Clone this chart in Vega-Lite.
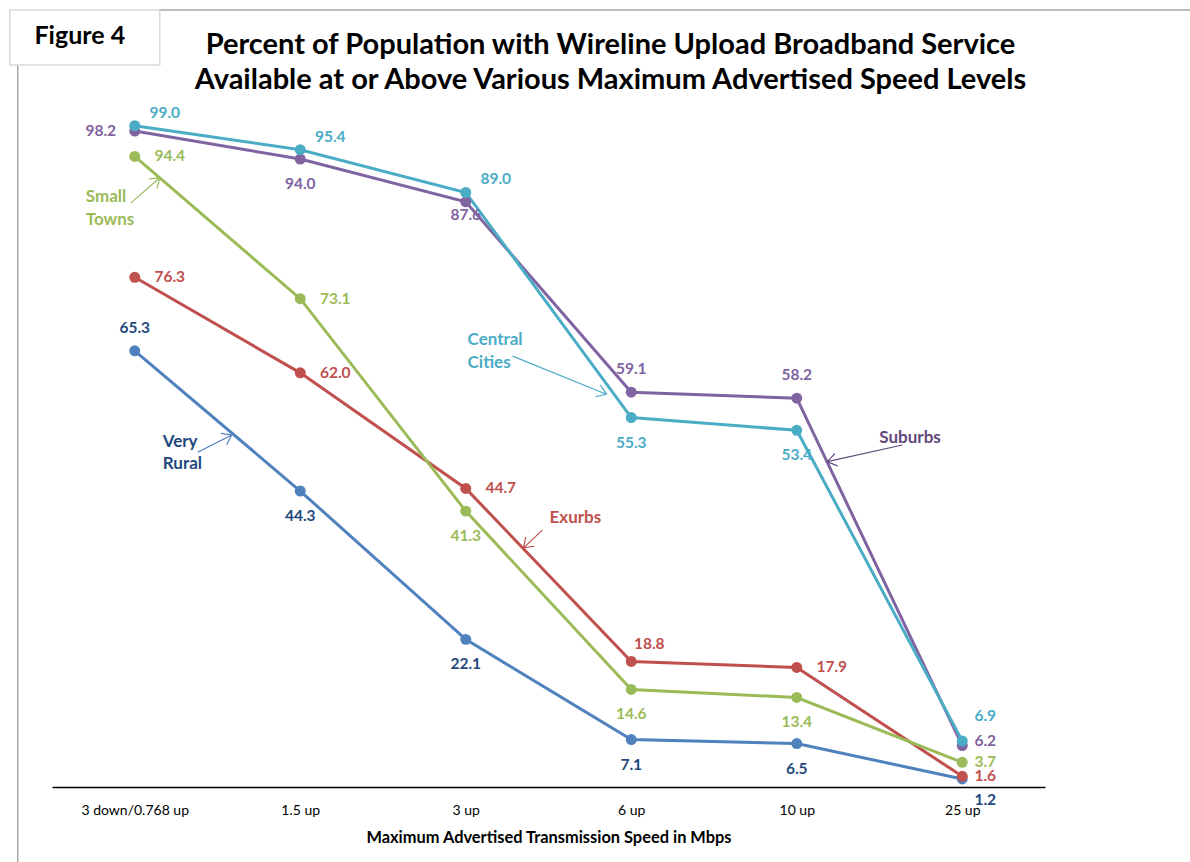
{
  "$schema": "https://vega.github.io/schema/vega-lite/v6.json",
  "width": 993,
  "height": 668,
  "autosize": {"type": "none"},
  "padding": {"left": 52, "top": 119, "right": 145, "bottom": 75},
  "background": "white",
  "config": {"view": {"stroke": null}, "font": "Lato"},
  "title": {
    "text": ["Percent of Population with Wireline Upload Broadband Service", "Available at or Above Various Maximum Advertised Speed Levels"],
    "fontSize": 29,
    "fontWeight": "bold",
    "font": "Lato",
    "lineHeight": 35,
    "color": "black",
    "anchor": "middle",
    "frame": "group",
    "baseline": "bottom",
    "dx": 62,
    "offset": -115
  },
  "datasets": {
    "main": [
      {"series": "Very Rural", "speed": "3 down/0.768 up", "value": 65.3},
      {"series": "Very Rural", "speed": "1.5 up", "value": 44.3},
      {"series": "Very Rural", "speed": "3 up", "value": 22.1},
      {"series": "Very Rural", "speed": "6 up", "value": 7.1},
      {"series": "Very Rural", "speed": "10 up", "value": 6.5},
      {"series": "Very Rural", "speed": "25 up", "value": 1.2},
      {"series": "Exurbs", "speed": "3 down/0.768 up", "value": 76.3},
      {"series": "Exurbs", "speed": "1.5 up", "value": 62.0},
      {"series": "Exurbs", "speed": "3 up", "value": 44.7},
      {"series": "Exurbs", "speed": "6 up", "value": 18.8},
      {"series": "Exurbs", "speed": "10 up", "value": 17.9},
      {"series": "Exurbs", "speed": "25 up", "value": 1.6},
      {"series": "Small Towns", "speed": "3 down/0.768 up", "value": 94.4},
      {"series": "Small Towns", "speed": "1.5 up", "value": 73.1},
      {"series": "Small Towns", "speed": "3 up", "value": 41.3},
      {"series": "Small Towns", "speed": "6 up", "value": 14.6},
      {"series": "Small Towns", "speed": "10 up", "value": 13.4},
      {"series": "Small Towns", "speed": "25 up", "value": 3.7},
      {"series": "Suburbs", "speed": "3 down/0.768 up", "value": 98.2},
      {"series": "Suburbs", "speed": "1.5 up", "value": 94.0},
      {"series": "Suburbs", "speed": "3 up", "value": 87.6},
      {"series": "Suburbs", "speed": "6 up", "value": 59.1},
      {"series": "Suburbs", "speed": "10 up", "value": 58.2},
      {"series": "Suburbs", "speed": "25 up", "value": 6.2},
      {"series": "Central Cities", "speed": "3 down/0.768 up", "value": 99.0},
      {"series": "Central Cities", "speed": "1.5 up", "value": 95.4},
      {"series": "Central Cities", "speed": "3 up", "value": 89.0},
      {"series": "Central Cities", "speed": "6 up", "value": 55.3},
      {"series": "Central Cities", "speed": "10 up", "value": 53.4},
      {"series": "Central Cities", "speed": "25 up", "value": 6.9}
    ],
    "notes": [
      {"series": "Small Towns", "text": "Small", "ax": -0.296, "ay": 88.3},
      {"series": "Small Towns", "text": "Towns", "ax": -0.296, "ay": 84.9},
      {"series": "Central Cities", "text": "Central", "ax": 2.011, "ay": 66.9},
      {"series": "Central Cities", "text": "Cities", "ax": 2.011, "ay": 63.5},
      {"series": "Very Rural", "text": "Very", "ax": 0.169, "ay": 51.6},
      {"series": "Very Rural", "text": "Rural", "ax": 0.169, "ay": 48.4},
      {"series": "Exurbs", "text": "Exurbs", "ax": 2.506, "ay": 40.3},
      {"series": "Suburbs", "text": "Suburbs", "ax": 4.499, "ay": 52.2}
    ],
    "arrows": [
      {"series": "Small Towns", "ax": -0.024, "ay": 87.4, "ax2": 0.151, "ay2": 91.2},
      {"series": "Central Cities", "ax": 2.283, "ay": 64.5, "ax2": 2.85, "ay2": 58.8},
      {"series": "Very Rural", "ax": 0.38, "ay": 50.1, "ax2": 0.586, "ay2": 52.7},
      {"series": "Exurbs", "ax": 2.464, "ay": 38.5, "ax2": 2.349, "ay2": 35.8},
      {"series": "Suburbs", "ax": 4.638, "ay": 51.2, "ax2": 4.185, "ay2": 48.7}
    ]
  },
  "resolve": {"scale": {"x": "independent", "fill": "independent", "stroke": "independent", "color": "independent"}},
  "layer": [
    {
      "data": {"name": "main"},
      "encoding": {
        "x": {
          "field": "speed",
          "type": "ordinal",
          "sort": ["3 down/0.768 up", "1.5 up", "3 up", "6 up", "10 up", "25 up"],
          "scale": {"type": "point", "padding": 0.5},
          "axis": {
            "title": "Maximum Advertised Transmission Speed in Mbps",
            "titleFontSize": 16.4,
            "titleFontWeight": "bold",
            "titleColor": "black",
            "titleFont": "Lato",
            "titlePadding": 12,
            "labelFontSize": 14,
            "labelColor": "black",
            "labelFont": "Lato",
            "labelAngle": 0,
            "labelPadding": 16,
            "ticks": false,
            "domainColor": "black",
            "domainWidth": 1.5,
            "grid": false
          }
        },
        "y": {"field": "value", "type": "quantitative", "scale": {"domain": [0, 100]}, "axis": null}
      },
      "layer": [
        {
          "mark": {"type": "line", "strokeWidth": 3},
          "encoding": {
            "color": {"field": "series", "type": "nominal", "legend": null,
              "scale": {"domain": ["Very Rural", "Exurbs", "Small Towns", "Suburbs", "Central Cities"],
                        "range": ["#4F81BD", "#C0504D", "#9BBB59", "#8064A2", "#4BACC6"]}}
          }
        },
        {
          "mark": {"type": "point", "filled": true, "size": 120, "opacity": 1},
          "encoding": {
            "color": {"field": "series", "type": "nominal", "legend": null,
              "scale": {"domain": ["Very Rural", "Exurbs", "Small Towns", "Suburbs", "Central Cities"],
                        "range": ["#4F81BD", "#C0504D", "#9BBB59", "#8064A2", "#4BACC6"]}}
          }
        },
        {
          "transform": [{"filter": "datum.series === 'Central Cities' && indexof(['3 down/0.768 up','1.5 up','3 up'], datum.speed) >= 0"}],
          "mark": {"type": "text", "fontSize": 15.5, "fontWeight": "bold", "font": "Lato", "align": "center", "baseline": "middle", "dx": 30, "dy": -13},
          "encoding": {
            "text": {"field": "value", "type": "quantitative", "format": ".1f"},
            "fill": {"field": "series", "type": "nominal", "legend": null,
              "scale": {"domain": ["Very Rural", "Exurbs", "Small Towns", "Suburbs", "Central Cities"],
                        "range": ["#1F497D", "#C0504D", "#9BBB59", "#7F63A1", "#4BACC6"]}}
          }
        },
        {
          "transform": [{"filter": "(datum.series === 'Small Towns' && indexof(['3 down/0.768 up','1.5 up'], datum.speed) >= 0) || (datum.series === 'Exurbs' && indexof(['3 down/0.768 up','1.5 up','3 up','10 up'], datum.speed) >= 0)"}],
          "mark": {"type": "text", "fontSize": 15.5, "fontWeight": "bold", "font": "Lato", "align": "center", "baseline": "middle", "dx": 35, "dy": 0},
          "encoding": {
            "text": {"field": "value", "type": "quantitative", "format": ".1f"},
            "fill": {"field": "series", "type": "nominal", "legend": null,
              "scale": {"domain": ["Very Rural", "Exurbs", "Small Towns", "Suburbs", "Central Cities"],
                        "range": ["#1F497D", "#C0504D", "#9BBB59", "#7F63A1", "#4BACC6"]}}
          }
        },
        {
          "transform": [{"filter": "datum.series === 'Suburbs' && datum.speed === '3 down/0.768 up'"}],
          "mark": {"type": "text", "fontSize": 15.5, "fontWeight": "bold", "font": "Lato", "align": "center", "baseline": "middle", "dx": -34, "dy": 0},
          "encoding": {
            "text": {"field": "value", "type": "quantitative", "format": ".1f"},
            "fill": {"field": "series", "type": "nominal", "legend": null,
              "scale": {"domain": ["Very Rural", "Exurbs", "Small Towns", "Suburbs", "Central Cities"],
                        "range": ["#1F497D", "#C0504D", "#9BBB59", "#7F63A1", "#4BACC6"]}}
          }
        },
        {
          "transform": [{"filter": "(datum.series === 'Suburbs' && datum.speed === '1.5 up') || (datum.series === 'Central Cities' && indexof(['6 up','10 up'], datum.speed) >= 0) || (datum.series === 'Small Towns' && indexof(['3 up','6 up','10 up'], datum.speed) >= 0) || (datum.series === 'Very Rural' && indexof(['1.5 up','3 up','6 up','10 up'], datum.speed) >= 0)"}],
          "mark": {"type": "text", "fontSize": 15.5, "fontWeight": "bold", "font": "Lato", "align": "center", "baseline": "middle", "dx": 0, "dy": 25},
          "encoding": {
            "text": {"field": "value", "type": "quantitative", "format": ".1f"},
            "fill": {"field": "series", "type": "nominal", "legend": null,
              "scale": {"domain": ["Very Rural", "Exurbs", "Small Towns", "Suburbs", "Central Cities"],
                        "range": ["#1F497D", "#C0504D", "#9BBB59", "#7F63A1", "#4BACC6"]}}
          }
        },
        {
          "transform": [{"filter": "(datum.series === 'Suburbs' && indexof(['6 up','10 up'], datum.speed) >= 0) || (datum.series === 'Very Rural' && datum.speed === '3 down/0.768 up')"}],
          "mark": {"type": "text", "fontSize": 15.5, "fontWeight": "bold", "font": "Lato", "align": "center", "baseline": "middle", "dx": 0, "dy": -23},
          "encoding": {
            "text": {"field": "value", "type": "quantitative", "format": ".1f"},
            "fill": {"field": "series", "type": "nominal", "legend": null,
              "scale": {"domain": ["Very Rural", "Exurbs", "Small Towns", "Suburbs", "Central Cities"],
                        "range": ["#1F497D", "#C0504D", "#9BBB59", "#7F63A1", "#4BACC6"]}}
          }
        },
        {
          "transform": [{"filter": "datum.series === 'Suburbs' && datum.speed === '3 up'"}],
          "mark": {"type": "text", "fontSize": 15.5, "fontWeight": "bold", "font": "Lato", "align": "center", "baseline": "middle", "dx": 0, "dy": 13},
          "encoding": {
            "text": {"field": "value", "type": "quantitative", "format": ".1f"},
            "fill": {"field": "series", "type": "nominal", "legend": null,
              "scale": {"domain": ["Very Rural", "Exurbs", "Small Towns", "Suburbs", "Central Cities"],
                        "range": ["#1F497D", "#C0504D", "#9BBB59", "#7F63A1", "#4BACC6"]}}
          }
        },
        {
          "transform": [{"filter": "datum.series === 'Exurbs' && datum.speed === '6 up'"}],
          "mark": {"type": "text", "fontSize": 15.5, "fontWeight": "bold", "font": "Lato", "align": "center", "baseline": "middle", "dx": 18, "dy": -17},
          "encoding": {
            "text": {"field": "value", "type": "quantitative", "format": ".1f"},
            "fill": {"field": "series", "type": "nominal", "legend": null,
              "scale": {"domain": ["Very Rural", "Exurbs", "Small Towns", "Suburbs", "Central Cities"],
                        "range": ["#1F497D", "#C0504D", "#9BBB59", "#7F63A1", "#4BACC6"]}}
          }
        },
        {
          "transform": [{"filter": "datum.speed === '25 up' && datum.series === 'Central Cities'"}],
          "mark": {"type": "text", "fontSize": 15.5, "fontWeight": "bold", "font": "Lato", "align": "center", "baseline": "middle", "dx": 23, "dy": -25},
          "encoding": {
            "text": {"field": "value", "type": "quantitative", "format": ".1f"},
            "fill": {"field": "series", "type": "nominal", "legend": null,
              "scale": {"domain": ["Very Rural", "Exurbs", "Small Towns", "Suburbs", "Central Cities"],
                        "range": ["#1F497D", "#C0504D", "#9BBB59", "#7F63A1", "#4BACC6"]}}
          }
        },
        {
          "transform": [{"filter": "datum.speed === '25 up' && datum.series === 'Suburbs'"}],
          "mark": {"type": "text", "fontSize": 15.5, "fontWeight": "bold", "font": "Lato", "align": "center", "baseline": "middle", "dx": 23, "dy": -5},
          "encoding": {
            "text": {"field": "value", "type": "quantitative", "format": ".1f"},
            "fill": {"field": "series", "type": "nominal", "legend": null,
              "scale": {"domain": ["Very Rural", "Exurbs", "Small Towns", "Suburbs", "Central Cities"],
                        "range": ["#1F497D", "#C0504D", "#9BBB59", "#7F63A1", "#4BACC6"]}}
          }
        },
        {
          "transform": [{"filter": "datum.speed === '25 up' && (datum.series === 'Small Towns' || datum.series === 'Exurbs')"}],
          "mark": {"type": "text", "fontSize": 15.5, "fontWeight": "bold", "font": "Lato", "align": "center", "baseline": "middle", "dx": 23, "dy": 0},
          "encoding": {
            "text": {"field": "value", "type": "quantitative", "format": ".1f"},
            "fill": {"field": "series", "type": "nominal", "legend": null,
              "scale": {"domain": ["Very Rural", "Exurbs", "Small Towns", "Suburbs", "Central Cities"],
                        "range": ["#1F497D", "#C0504D", "#9BBB59", "#7F63A1", "#4BACC6"]}}
          }
        },
        {
          "transform": [{"filter": "datum.speed === '25 up' && datum.series === 'Very Rural'"}],
          "mark": {"type": "text", "fontSize": 15.5, "fontWeight": "bold", "font": "Lato", "align": "center", "baseline": "middle", "dx": 23, "dy": 21},
          "encoding": {
            "text": {"field": "value", "type": "quantitative", "format": ".1f"},
            "fill": {"field": "series", "type": "nominal", "legend": null,
              "scale": {"domain": ["Very Rural", "Exurbs", "Small Towns", "Suburbs", "Central Cities"],
                        "range": ["#1F497D", "#C0504D", "#9BBB59", "#7F63A1", "#4BACC6"]}}
          }
        }
      ]
    },
    {
      "layer": [
        {
          "data": {"values": [{}]},
          "mark": {"type": "rule", "color": "#a6a6a6", "strokeWidth": 1.5},
          "encoding": {
            "x": {"datum": -0.707, "type": "quantitative", "scale": {"domain": [-0.5, 5.5], "nice": false, "zero": false}, "axis": null},
            "y": {"datum": 108.1, "type": "quantitative"},
            "y2": {"datum": -12}
          }
        },
        {
          "data": {"values": [{}]},
          "mark": {"type": "rule", "color": "#a6a6a6", "strokeWidth": 1.5},
          "encoding": {
            "x": {"datum": 0.151, "type": "quantitative"},
            "x2": {"datum": 6.5},
            "y": {"datum": 116.3, "type": "quantitative"}
          }
        },
        {
          "data": {"values": [{}]},
          "mark": {"type": "rect", "fill": "white", "stroke": "#d9d9d9", "strokeWidth": 1.5},
          "encoding": {
            "x": {"datum": -0.755, "type": "quantitative"},
            "x2": {"datum": 0.151},
            "y": {"datum": 116.3, "type": "quantitative"},
            "y2": {"datum": 108.1}
          }
        },
        {
          "data": {"values": [{"text": "Figure 4"}]},
          "mark": {"type": "text", "fontSize": 25, "fontWeight": "bold", "font": "Lato", "color": "black", "align": "center", "baseline": "middle"},
          "encoding": {
            "x": {"datum": -0.332, "type": "quantitative"},
            "y": {"datum": 112.4, "type": "quantitative"},
            "text": {"field": "text"}
          }
        },
        {
          "data": {"name": "notes"},
          "mark": {"type": "text", "fontSize": 17, "fontWeight": "bold", "font": "Lato", "align": "left", "baseline": "middle"},
          "encoding": {
            "x": {"field": "ax", "type": "quantitative"},
            "y": {"field": "ay", "type": "quantitative"},
            "text": {"field": "text"},
            "fill": {"field": "series", "type": "nominal", "legend": null,
              "scale": {"domain": ["Very Rural", "Exurbs", "Small Towns", "Suburbs", "Central Cities"],
                        "range": ["#1F497D", "#C0504D", "#9BBB59", "#5F497A", "#4BACC6"]}}
          }
        },
        {
          "data": {"name": "arrows"},
          "mark": {"type": "rule", "strokeWidth": 1.2},
          "encoding": {
            "x": {"field": "ax", "type": "quantitative"},
            "y": {"field": "ay", "type": "quantitative"},
            "x2": {"field": "ax2"},
            "y2": {"field": "ay2"},
            "stroke": {"field": "series", "type": "nominal", "legend": null,
              "scale": {"domain": ["Very Rural", "Exurbs", "Small Towns", "Suburbs", "Central Cities"],
                        "range": ["#4F81BD", "#C0504D", "#9BBB59", "#5F497A", "#4BACC6"]}}
          }
        },
        {
          "data": {"name": "arrows"},
          "transform": [{"calculate": "atan2(-(datum.ay2 - datum.ay) * 6.68, (datum.ax2 - datum.ax) * 165.5) * 180 / PI", "as": "ang"}],
          "mark": {"type": "point", "shape": "M-1,-0.7L0,0L-1,0.7", "filled": false, "size": 324, "strokeWidth": 1.2, "opacity": 1},
          "encoding": {
            "x": {"field": "ax2", "type": "quantitative"},
            "y": {"field": "ay2", "type": "quantitative"},
            "angle": {"field": "ang", "type": "quantitative", "scale": null},
            "stroke": {"field": "series", "type": "nominal", "legend": null,
              "scale": {"domain": ["Very Rural", "Exurbs", "Small Towns", "Suburbs", "Central Cities"],
                        "range": ["#4F81BD", "#C0504D", "#9BBB59", "#5F497A", "#4BACC6"]}}
          }
        }
      ]
    }
  ]
}
